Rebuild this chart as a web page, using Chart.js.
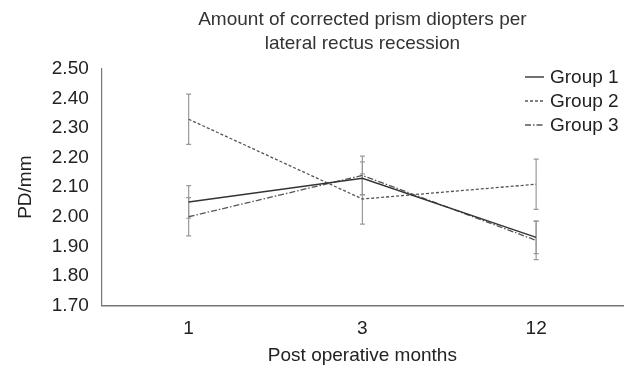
<!DOCTYPE html>
<html>
<head>
<meta charset="utf-8">
<script src="https://cdn.jsdelivr.net/npm/chart.js@4.4.0/dist/chart.umd.min.js"></script>
<style>
html,body{margin:0;padding:0;background:#fff;}
#wrap{width:636px;height:368px;}
</style>
</head>
<body>
<div id="wrap"><canvas id="c" width="636" height="368"></canvas></div>
<script>
const categories = ["1", "3", "12"];
const seriesNames = ["Group 1", "Group 2", "Group 3"];
const group1 = [2.05, 2.13, 1.93];
const group2 = [2.33, 2.06, 2.11];
const group3 = [2.00, 2.14, 1.92];
const group1Err = [0.055, 0.056, 0.055];
const group2Err = [0.085, 0.085, 0.085];
const group3Err = [0.065, 0.065, 0.065];
const yTicks = [1.70, 1.80, 1.90, 2.00, 2.10, 2.20, 2.30, 2.40, 2.50];

const FONT = "'Liberation Sans', Arial, sans-serif";
const FS = 19;
const styles = [
  {color: '#333333', dash: [], width: 1.4},
  {color: '#555555', dash: [3, 2], width: 1.3},
  {color: '#555555', dash: [6, 2, 1.5, 2], width: 1.3}
];
const errs = [group1Err, group2Err, group3Err];

const errorBars = {
  id: 'errorBars',
  beforeDatasetsDraw(chart) {
    const ctx = chart.ctx;
    const ys = chart.scales.y;
    ctx.save();
    ctx.strokeStyle = '#9a9a9a';
    ctx.lineWidth = 1.2;
    chart.data.datasets.forEach((ds, i) => {
      const meta = chart.getDatasetMeta(i);
      meta.data.forEach((pt, j) => {
        const v = ds.data[j], e = errs[i][j];
        const yt = ys.getPixelForValue(v + e), yb = ys.getPixelForValue(v - e);
        const x = pt.x;
        ctx.beginPath();
        ctx.moveTo(x, yt); ctx.lineTo(x, yb);
        ctx.moveTo(x - 2.5, yt); ctx.lineTo(x + 2.5, yt);
        ctx.moveTo(x - 2.5, yb); ctx.lineTo(x + 2.5, yb);
        ctx.stroke();
      });
    });
    ctx.restore();
  }
};

const customLegend = {
  id: 'customLegend',
  afterDraw(chart) {
    const ctx = chart.ctx;
    const ca = chart.chartArea;
    ctx.save();
    ctx.font = FS + 'px ' + FONT;
    ctx.textBaseline = 'middle';
    ctx.fillStyle = '#222';
    seriesNames.forEach((name, i) => {
      const y = ca.top + 8 + i * 24;
      const x0 = ca.right - 98;
      ctx.strokeStyle = styles[i].color;
      ctx.lineWidth = styles[i].width;
      ctx.setLineDash(styles[i].dash);
      ctx.beginPath();
      ctx.moveTo(x0, y); ctx.lineTo(x0 + 19, y);
      ctx.stroke();
      ctx.setLineDash([]);
      ctx.fillText(name, x0 + 25, y + 1);
    });
    ctx.restore();
  }
};

const datasets = [group1, group2, group3].map((d, i) => ({
  label: seriesNames[i],
  data: d,
  borderColor: styles[i].color,
  borderWidth: styles[i].width,
  borderDash: styles[i].dash,
  pointRadius: 0,
  fill: false,
  tension: 0
}));

new Chart(document.getElementById('c'), {
  type: 'line',
  data: {labels: categories, datasets},
  plugins: [errorBars, customLegend],
  options: {
    responsive: false,
    animation: false,
    devicePixelRatio: 1,
    layout: {padding: {left: 6, right: 13, top: 0, bottom: 1}},
    plugins: {
      legend: {display: false},
      tooltip: {enabled: false},
      title: {
        display: true,
        fullSize: false,
        text: ['Amount of corrected prism diopters per', 'lateral rectus recession'],
        color: '#333',
        font: {family: FONT, size: FS, weight: 'normal', lineHeight: 24 / 19},
        padding: {top: 8, bottom: 13}
      }
    },
    scales: {
      x: {
        type: 'category',
        offset: true,
        grid: {display: false, drawTicks: false},
        border: {display: true, color: '#777', width: 1.5},
        ticks: {color: '#222', font: {family: FONT, size: FS}, padding: 12},
        title: {display: true, text: 'Post operative months', color: '#222', font: {family: FONT, size: FS}, padding: {top: -8, bottom: 0}}
      },
      y: {
        min: 1.7, max: 2.5,
        afterBuildTicks(axis) { axis.ticks = yTicks.map(v => ({value: v})); },
        grid: {display: false, drawTicks: false},
        border: {display: true, color: '#777', width: 1.2},
        ticks: {color: '#222', font: {family: FONT, size: FS}, padding: 13, callback: v => Number(v).toFixed(2)},
        title: {display: true, text: 'PD/mm', color: '#222', font: {family: FONT, size: FS}, padding: {top: 8, bottom: 2}}
      }
    }
  }
});
</script>
</body>
</html>
